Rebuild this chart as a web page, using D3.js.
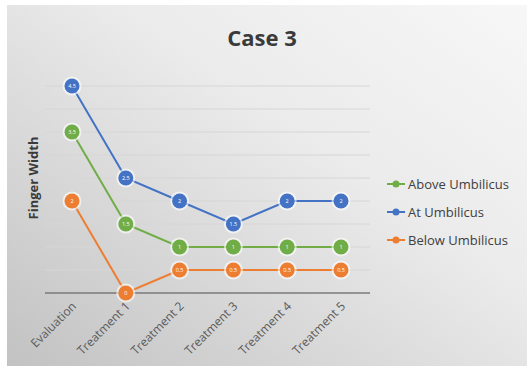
<!DOCTYPE html>
<html><head><meta charset="utf-8">
<script src="https://cdn.jsdelivr.net/npm/d3@7"></script>
<style>body{margin:0;background:#fff}svg{display:block}</style>
</head><body>
<script>
const categories = ["Evaluation","Treatment 1","Treatment 2","Treatment 3","Treatment 4","Treatment 5"];
const seriesNames = ["Above Umbilicus","At Umbilicus","Below Umbilicus"];
const aboveValues = [3.5,1.5,1,1,1,1];
const atValues = [4.5,2.5,2,1.5,2,2];
const belowValues = [2,0,0.5,0.5,0.5,0.5];
const gridTicks = [0.5,1,1.5,2,2.5,3,3.5,4,4.5];
const colors = ["#70ad47","#4472c4","#ed7d31"];

const W=527,H=366;
const svg=d3.select("body").append("svg").attr("width",W).attr("height",H);
const defs=svg.append("defs");
const g1=defs.append("linearGradient").attr("id","bg").attr("x1","100%").attr("y1","0%").attr("x2","0%").attr("y2","100%");
g1.append("stop").attr("offset","0%").attr("stop-color","#f7f7f7");
g1.append("stop").attr("offset","40%").attr("stop-color","#ebebeb");
g1.append("stop").attr("offset","100%").attr("stop-color","#c2c2c2");
svg.append("rect").attr("x",7).attr("y",5).attr("width",W-7).attr("height",H-5).attr("fill","url(#bg)");

const x=d3.scalePoint().domain(categories).range([72,341]);
const y=d3.scaleLinear().domain([0,5]).range([293,63]);

svg.append("g").selectAll("line").data(gridTicks).join("line")
 .attr("x1",45).attr("x2",370).attr("y1",d=>y(d)).attr("y2",d=>y(d))
 .attr("stroke","#d6d6d6").attr("stroke-width",1);
svg.append("line").attr("x1",45).attr("x2",370).attr("y1",y(0)).attr("y2",y(0))
 .attr("stroke","#7a7a7a").attr("stroke-width",1.5);

svg.append("text").attr("x",262).attr("y",46).attr("text-anchor","middle")
 .attr("font-family","Open Sans, sans-serif").attr("font-weight","bold").attr("font-size",22)
 .attr("fill","#3a3a3a").text("Case 3");
svg.append("text").attr("transform","translate(38,178) rotate(-90)").attr("text-anchor","middle")
 .attr("font-family","Open Sans, sans-serif").attr("font-weight","bold").attr("font-size",13)
 .attr("fill","#3a3a3a").text("Finger Width");

categories.forEach(c=>{
 svg.append("text").attr("transform",`translate(${x(c)+5},${y(0)+14}) rotate(-45)`)
  .attr("text-anchor","end").attr("font-family","Open Sans, sans-serif").attr("font-size",12)
  .attr("fill","#5a5a5a").text(c);
});

const data=[aboveValues,atValues,belowValues];
const line=d3.line().x((d,i)=>x(categories[i])).y(d=>y(d));
data.forEach((vals,k)=>{
 svg.append("path").attr("d",line(vals)).attr("fill","none").attr("stroke",colors[k]).attr("stroke-width",2);
});
data.forEach((vals,k)=>{
 const gg=svg.append("g");
 gg.selectAll("circle.h").data(vals).join("circle")
  .attr("cx",(d,i)=>x(categories[i])).attr("cy",d=>y(d)).attr("r",9.5)
  .attr("fill","#fff").attr("opacity",0.6);
 gg.selectAll("circle.m").data(vals).join("circle")
  .attr("cx",(d,i)=>x(categories[i])).attr("cy",d=>y(d)).attr("r",7.5)
  .attr("fill",colors[k]);
 gg.selectAll("text").data(vals).join("text")
  .attr("x",(d,i)=>x(categories[i])).attr("y",d=>y(d)+2).attr("text-anchor","middle")
  .attr("font-family","Open Sans, sans-serif").attr("font-size",5.5).attr("fill","#fff")
  .text(d=>d);
});

const legY=[184,212,240];
seriesNames.forEach((n,k)=>{
 svg.append("line").attr("x1",387).attr("x2",405).attr("y1",legY[k]).attr("y2",legY[k])
  .attr("stroke",colors[k]).attr("stroke-width",2);
 svg.append("circle").attr("cx",396).attr("cy",legY[k]).attr("r",3.5).attr("fill",colors[k]);
 svg.append("text").attr("x",408).attr("y",legY[k]+4.5).attr("font-family","Open Sans, sans-serif")
  .attr("font-size",13).attr("fill","#404040").text(n);
});
</script>
</body></html>
